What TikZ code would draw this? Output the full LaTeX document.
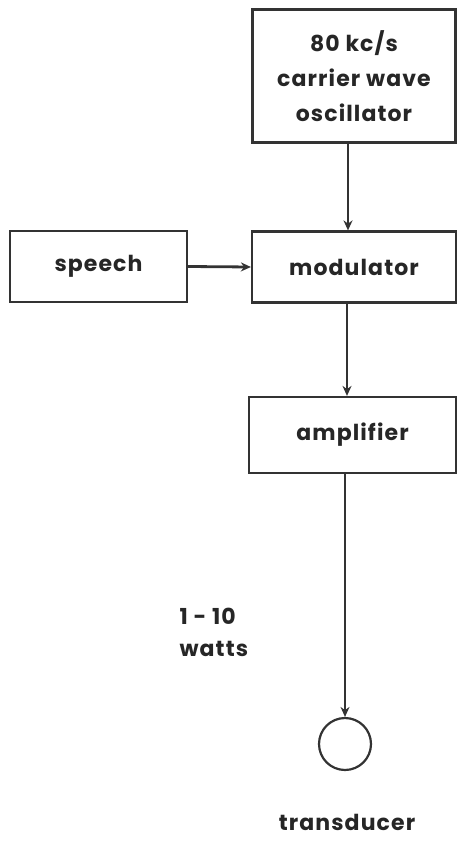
\documentclass[tikz,border=0pt]{standalone}
\usepackage{fontspec}
\setmainfont{Poppins}[LetterSpace=5]
\usetikzlibrary{arrows.meta}
\begin{document}
\begin{tikzpicture}[x=1pt,y=-1pt,
  blk/.style={draw=black!80,line width=2.2pt,inner sep=0pt,align=center,text=black!85,font=\fontsize{22}{35}\selectfont\bfseries},
  conn/.style={draw=black!80,line width=2.8pt,-{Stealth[length=10pt,width=9pt]}},
  lbl/.style={text=black!85,font=\fontsize{22}{32}\selectfont\bfseries}]
\useasboundingbox (0,0) rectangle (457,858);
\node[blk,minimum width=203pt,minimum height=133pt] (osc) at (354,76) {80 kc/s\\carrier wave\\oscillator};
\node[blk,minimum width=204pt,minimum height=71pt] (mod) at (354,267) {modulator};
\node[blk,minimum width=177pt,minimum height=71pt] (sp) at (98.5,266.5) {speech};
\node[blk,minimum width=207pt,minimum height=76pt] (amp) at (352.5,435) {amplifier};
\node[draw=black!80,line width=2.2pt,circle,minimum size=52pt,inner sep=0pt] (tr) at (345,744) {};
\node[lbl,align=center] (tl) at (347,822) {transducer};
\node[lbl,align=left,anchor=west] (w) at (176,632) {1 - 10\\watts};
\draw[conn] (osc.south -| 348,0) -- (mod.north -| 348,0);
\draw[conn] (sp.east) -- (mod.west);
\draw[conn] (mod.south -| 347,0) -- (amp.north -| 347,0);
\draw[conn] (amp.south -| 345,0) -- (tr.north);
\end{tikzpicture}
\end{document}
